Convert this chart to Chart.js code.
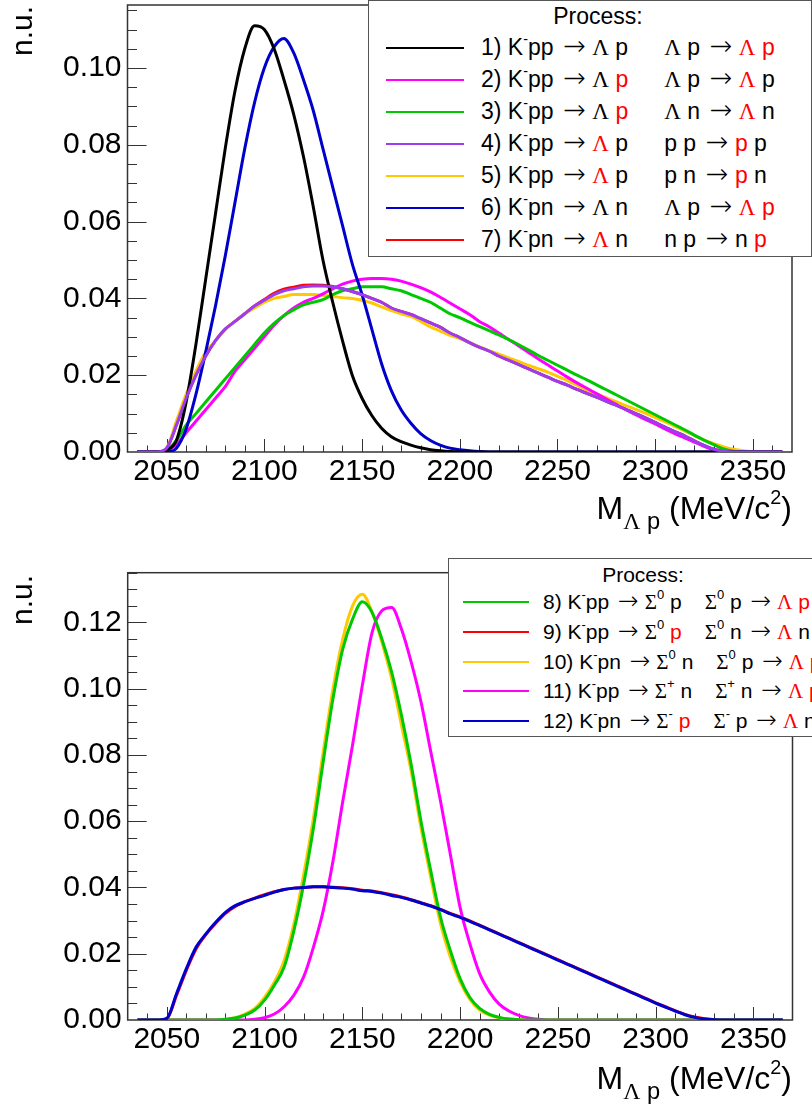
<!DOCTYPE html>
<html>
<head>
<meta charset="utf-8">
<script src="https://cdn.jsdelivr.net/npm/chart.js@4.4.0/dist/chart.umd.min.js"></script>
<style>
  body { margin: 0; width: 812px; height: 1107px; overflow: hidden; background: #fff;
         position: relative; font-family: 'Liberation Sans', Arial, sans-serif; color: #000; }
  canvas { position: absolute; left: 0; }
  #topChart { top: 0; }
  #bottomChart { top: 560px; }
  .legend { position: absolute; background: #fff; border: 1.5px solid #555; box-sizing: border-box; }
  .lrow { position: absolute; white-space: nowrap; line-height: 1; }
  .swatch { position: absolute; height: 0; border-top: 2.5px solid; }
  .lrow i { font-style: normal; color: #f00; }
  .s { font-family: 'Liberation Serif', 'DejaVu Serif', serif; }
  .arr { font-family: 'DejaVu Sans', sans-serif; font-weight: 200; font-size: 118%; line-height: 0; margin-left: 0.12em; }
  .gap { display: inline-block; }
  sup { font-size: 62%; vertical-align: 0.75em; line-height: 0; }
  sub { font-size: 74%; vertical-align: -0.42em; line-height: 0; }
  .xtitle { position: absolute; right: 20px; font-size: 32px; line-height: 1; white-space: nowrap; }
  .ytitle { position: absolute; left: 0; top: 0; font-size: 30px; line-height: 1; white-space: nowrap;
            transform-origin: 0 0; }
</style>
</head>
<body>
<canvas id="topChart" width="812" height="560"></canvas>
<canvas id="bottomChart" width="812" height="547"></canvas>

<div class="ytitle" style="transform: translate(7px, 56px) rotate(-90deg);">n.u.</div>
<div class="xtitle" style="top: 492px;">M<sub><span class="s">Λ</span> p</sub> (MeV/c<sup>2</sup>)</div>
<div class="ytitle" style="transform: translate(7px, 625px) rotate(-90deg);">n.u.</div>
<div class="xtitle" style="top: 1062px;">M<sub><span class="s">Λ</span> p</sub> (MeV/c<sup>2</sup>)</div>

<script>
// M(Λp) bin centres, MeV/c^2
const mass = [
  2035, 2040, 2045, 2050, 2055, 2060, 2065, 2070, 2075, 2080,
  2085, 2090, 2095, 2100, 2105, 2110, 2115, 2120, 2125, 2130,
  2135, 2140, 2145, 2150, 2155, 2160, 2165, 2170, 2175, 2180,
  2185, 2190, 2195, 2200, 2205, 2210, 2215, 2220, 2225, 2230,
  2235, 2240, 2245, 2250, 2255, 2260, 2265, 2270, 2275, 2280,
  2285, 2290, 2295, 2300, 2305, 2310, 2315, 2320, 2325, 2330,
  2335, 2340, 2345, 2350, 2355, 2360, 2365
];

const massTicks = [2050, 2100, 2150, 2200, 2250, 2300, 2350];
const yTicksTop = [0, 0.02, 0.04, 0.06, 0.08, 0.10];
const yTicksBottom = [0, 0.02, 0.04, 0.06, 0.08, 0.10, 0.12];

// top panel: processes 1-7
const proc1 = [
  0, 0, 0, 0.0005, 0.003, 0.013, 0.028, 0.045, 0.062, 0.079,
  0.094, 0.105, 0.111, 0.110, 0.105, 0.097, 0.088, 0.077, 0.064, 0.050,
  0.039, 0.029, 0.020, 0.014, 0.0095, 0.0062, 0.004, 0.0027, 0.0018, 0.0011,
  0.0006, 0.0003, 0.0001, 0, 0, 0, 0, 0, 0, 0,
  0, 0, 0, 0, 0, 0, 0, 0, 0, 0,
  0, 0, 0, 0, 0, 0, 0, 0, 0, 0,
  0, 0, 0, 0, 0, 0, 0
];
const proc2 = [
  0, 0, 0, 0.0003, 0.002, 0.005, 0.008, 0.011, 0.014, 0.017,
  0.021, 0.024, 0.027, 0.030, 0.033, 0.0355, 0.0375, 0.039, 0.040, 0.0412,
  0.0425, 0.0437, 0.0445, 0.045, 0.0452, 0.0452, 0.045, 0.0445, 0.0437, 0.0428,
  0.0417, 0.0403, 0.0388, 0.0373, 0.0358, 0.034, 0.0326, 0.031, 0.0293, 0.0277,
  0.026, 0.0243, 0.0227, 0.0211, 0.0195, 0.018, 0.0166, 0.0152, 0.0138, 0.0124,
  0.011, 0.0097, 0.0085, 0.0073, 0.006, 0.0048, 0.0037, 0.0026, 0.0015, 0.0006,
  0.0001, 0, 0, 0, 0, 0, 0
];
const proc3 = [
  0, 0, 0, 0.0005, 0.003, 0.007, 0.010, 0.013, 0.016, 0.019,
  0.022, 0.025, 0.028, 0.031, 0.0335, 0.0355, 0.037, 0.0383, 0.039, 0.0397,
  0.041, 0.042, 0.0425, 0.043, 0.043, 0.043, 0.0425, 0.042, 0.041, 0.040,
  0.039, 0.0375, 0.036, 0.035, 0.0338, 0.0327, 0.0316, 0.0305, 0.0293, 0.028,
  0.0266, 0.0252, 0.0239, 0.0226, 0.0213, 0.0200, 0.0188, 0.0175, 0.0162, 0.0149,
  0.0136, 0.0123, 0.0110, 0.0097, 0.0084, 0.0071, 0.0058, 0.0044, 0.0031, 0.0019,
  0.0008, 0.0002, 0, 0, 0, 0, 0
];
const proc4 = [
  0, 0, 0, 0.001, 0.007, 0.014, 0.020, 0.025, 0.029, 0.032,
  0.034, 0.036, 0.038, 0.0395, 0.041, 0.042, 0.0425, 0.043, 0.0432, 0.0432,
  0.043, 0.0425, 0.0418, 0.041, 0.040, 0.039, 0.0375, 0.0366, 0.0358, 0.0347,
  0.0336, 0.0325, 0.031, 0.0298, 0.0285, 0.0273, 0.0263, 0.025, 0.0239, 0.0228,
  0.0217, 0.0206, 0.0195, 0.0184, 0.0174, 0.0163, 0.0153, 0.0143, 0.0132, 0.0122,
  0.0111, 0.0100, 0.0089, 0.0077, 0.0065, 0.0053, 0.0042, 0.0029, 0.0017, 0.0007,
  0.0002, 0, 0, 0, 0, 0, 0
];
const proc5 = [
  0, 0, 0, 0.001, 0.008, 0.015, 0.021, 0.026, 0.029, 0.032,
  0.034, 0.036, 0.0375, 0.039, 0.040, 0.0405, 0.041, 0.041, 0.041, 0.0408,
  0.0405, 0.0402, 0.040, 0.0395, 0.0388, 0.0378, 0.0368, 0.036, 0.0353, 0.034,
  0.0326, 0.0315, 0.0304, 0.0295, 0.0285, 0.0274, 0.0264, 0.0255, 0.0245, 0.0236,
  0.0226, 0.0217, 0.0208, 0.0197, 0.0186, 0.0174, 0.0161, 0.0151, 0.0141, 0.0131,
  0.0121, 0.0111, 0.0101, 0.0090, 0.0079, 0.0067, 0.0055, 0.0043, 0.0031, 0.0022,
  0.0013, 0.0007, 0.0003, 0.0001, 0, 0, 0
];
const proc6 = [
  0, 0, 0, 0, 0.001, 0.006, 0.015, 0.026, 0.038, 0.051,
  0.065, 0.079, 0.091, 0.100, 0.1055, 0.1077, 0.104, 0.097, 0.089, 0.079,
  0.069, 0.059, 0.049, 0.041, 0.032, 0.023, 0.016, 0.011, 0.0075, 0.0048,
  0.003, 0.0018, 0.001, 0.0006, 0.0003, 0.0001, 0, 0, 0, 0,
  0, 0, 0, 0, 0, 0, 0, 0, 0, 0,
  0, 0, 0, 0, 0, 0, 0, 0, 0, 0,
  0, 0, 0, 0, 0, 0, 0
];
const proc7 = [
  0, 0, 0, 0.001, 0.007, 0.014, 0.020, 0.025, 0.029, 0.032,
  0.034, 0.036, 0.038, 0.0397, 0.0413, 0.0424, 0.0429, 0.0434, 0.0435, 0.0434,
  0.0431, 0.0425, 0.0418, 0.041, 0.040, 0.039, 0.0375, 0.0366, 0.0358, 0.0347,
  0.0336, 0.0325, 0.031, 0.0298, 0.0285, 0.0273, 0.0263, 0.025, 0.0239, 0.0228,
  0.0217, 0.0206, 0.0195, 0.0184, 0.0174, 0.0163, 0.0153, 0.0143, 0.0132, 0.0122,
  0.0111, 0.0100, 0.0089, 0.0077, 0.0065, 0.0053, 0.0042, 0.0029, 0.0017, 0.0007,
  0.0002, 0, 0, 0, 0, 0, 0
];

// bottom panel: processes 8-12
const proc8 = [
  0, 0, 0, 0, 0, 0, 0, 0, 0, 0.0002,
  0.0006, 0.0015, 0.003, 0.006, 0.0105, 0.016, 0.027, 0.041, 0.058, 0.078,
  0.097, 0.112, 0.121, 0.1262, 0.123, 0.115, 0.105, 0.092, 0.077, 0.060,
  0.045, 0.031, 0.021, 0.0125, 0.0068, 0.0035, 0.0017, 0.0008, 0.0003, 0.0001,
  0, 0, 0, 0, 0, 0, 0, 0, 0, 0,
  0, 0, 0, 0, 0, 0, 0, 0, 0, 0,
  0, 0, 0, 0, 0, 0, 0
];
const proc9 = [
  0, 0, 0, 0.0004, 0.0075, 0.015, 0.0215, 0.0258, 0.0292, 0.0322,
  0.0343, 0.0357, 0.0368, 0.0378, 0.0387, 0.0394, 0.0398, 0.040, 0.0402, 0.0402,
  0.0401, 0.0399, 0.0396, 0.0392, 0.0389, 0.0384, 0.0378, 0.0371, 0.0363, 0.0354,
  0.0345, 0.0334, 0.0322, 0.0311, 0.0299, 0.0286, 0.0273, 0.026, 0.0247, 0.0234,
  0.0221, 0.0208, 0.0195, 0.0182, 0.0169, 0.0156, 0.0143, 0.013, 0.0117, 0.0104,
  0.0091, 0.0078, 0.0065, 0.0052, 0.004, 0.0028, 0.0017, 0.0009, 0.0004, 0.0001,
  0, 0, 0, 0, 0, 0, 0
];
const proc10 = [
  0, 0, 0, 0, 0, 0, 0, 0, 0, 0.0002,
  0.0007, 0.0018, 0.0035, 0.0068, 0.0115, 0.018, 0.029, 0.044, 0.061, 0.081,
  0.100, 0.115, 0.125, 0.1285, 0.123, 0.114, 0.103, 0.089, 0.075, 0.058,
  0.043, 0.029, 0.019, 0.0115, 0.0062, 0.003, 0.0015, 0.0007, 0.0003, 0.0001,
  0, 0, 0, 0, 0, 0, 0, 0, 0, 0,
  0, 0, 0, 0, 0, 0, 0, 0, 0, 0,
  0, 0, 0, 0, 0, 0, 0
];
const proc11 = [
  0, 0, 0, 0, 0, 0, 0, 0, 0, 0,
  0, 0, 0.0002, 0.0007, 0.0018, 0.004, 0.0075, 0.013, 0.022, 0.033,
  0.048, 0.066, 0.083, 0.101, 0.117, 0.1235, 0.1245, 0.118, 0.108, 0.096,
  0.081, 0.066, 0.050, 0.034, 0.023, 0.014, 0.0085, 0.0048, 0.0027, 0.0014,
  0.0006, 0.0002, 0, 0, 0, 0, 0, 0, 0, 0,
  0, 0, 0, 0, 0, 0, 0, 0, 0, 0,
  0, 0, 0, 0, 0, 0, 0
];
const proc12 = [
  0, 0, 0, 0.0005, 0.008, 0.0155, 0.022, 0.026, 0.0295, 0.0325,
  0.0345, 0.0357, 0.0367, 0.0376, 0.0386, 0.0394, 0.0398, 0.040, 0.0402, 0.0402,
  0.040, 0.0398, 0.0395, 0.039, 0.0388, 0.0383, 0.0376, 0.037, 0.0362, 0.0353,
  0.0344, 0.0333, 0.032, 0.031, 0.0298, 0.0285, 0.0272, 0.0259, 0.0246, 0.0233,
  0.022, 0.0207, 0.0194, 0.0181, 0.0168, 0.0155, 0.0142, 0.0129, 0.0116, 0.0103,
  0.009, 0.0077, 0.0064, 0.0051, 0.0039, 0.0027, 0.0016, 0.0008, 0.0003, 0.0001,
  0, 0, 0, 0, 0, 0, 0
];

// legend labels: first reaction, second reaction (red = detected particles)
const labelsTop = [
  ['1) K<sup>-</sup>pp → Λ p', 'Λ p → <i>Λ p</i>'],
  ['2) K<sup>-</sup>pp → Λ <i>p</i>', 'Λ p → <i>Λ</i> p'],
  ['3) K<sup>-</sup>pp → Λ <i>p</i>', 'Λ n → <i>Λ</i> n'],
  ['4) K<sup>-</sup>pp → <i>Λ</i> p', 'p p → <i>p</i> p'],
  ['5) K<sup>-</sup>pp → <i>Λ</i> p', 'p n → <i>p</i> n'],
  ['6) K<sup>-</sup>pn → Λ n', 'Λ p → <i>Λ p</i>'],
  ['7) K<sup>-</sup>pn → <i>Λ</i> n', 'n p → n <i>p</i>'],
];
const labelsBottom = [
  ['8) K<sup>-</sup>pp → Σ<sup>0</sup> p', 'Σ<sup>0</sup> p → <i>Λ p</i>'],
  ['9) K<sup>-</sup>pp → Σ<sup>0</sup> <i>p</i>', 'Σ<sup>0</sup> n → <i>Λ</i> n'],
  ['10) K<sup>-</sup>pn → Σ<sup>0</sup> n', 'Σ<sup>0</sup> p → <i>Λ p</i>'],
  ['11) K<sup>-</sup>pp → Σ<sup>+</sup> n', 'Σ<sup>+</sup> n → <i>Λ p</i>'],
  ['12) K<sup>-</sup>pn → Σ<sup>-</sup> <i>p</i>', 'Σ<sup>-</sup> p → <i>Λ</i> n'],
];

const topSets = [
  { values: proc1, color: '#000000', order: 2 },
  { values: proc2, color: '#ff00ff', order: 5 },
  { values: proc3, color: '#00c800', order: 4 },
  { values: proc4, color: '#9b3cf0', order: 1 },
  { values: proc5, color: '#ffc800', order: 6 },
  { values: proc6, color: '#0000cc', order: 3 },
  { values: proc7, color: '#ff0000', order: 7 },
];
const bottomSets = [
  { values: proc8, color: '#00c800', order: 2 },
  { values: proc9, color: '#ff0000', order: 5 },
  { values: proc10, color: '#ffc800', order: 4 },
  { values: proc11, color: '#ff00ff', order: 3 },
  { values: proc12, color: '#0000cc', order: 1 },
];

// ROOT-style frame with inward major/minor ticks
const frameTicks = {
  id: 'frameTicks',
  beforeDatasetsDraw(chart) {
    const { ctx, chartArea: a, scales: { x, y } } = chart;
    ctx.save();
    ctx.strokeStyle = '#333';
    ctx.lineWidth = 1;
    ctx.beginPath();
    const nY = Math.floor(y.max / 0.005 + 1e-6);
    for (let k = 1; k <= nY; k++) {
      const py = Math.round(y.getPixelForValue(k * 0.005)) + 0.5;
      const len = k % 4 === 0 ? 19 : 9.5;
      ctx.moveTo(a.left, py);
      ctx.lineTo(a.left + len, py);
    }
    for (let m = 2040; m < x.max; m += 10) {
      const px = Math.round(x.getPixelForValue(m)) + 0.5;
      const len = m % 50 === 0 ? 13 : 6.5;
      ctx.moveTo(px, a.bottom);
      ctx.lineTo(px, a.bottom - len);
    }
    ctx.stroke();
    ctx.lineWidth = 1.5;
    ctx.strokeRect(a.left, a.top, a.right - a.left, a.bottom - a.top);
    ctx.restore();
  }
};

function buildChart(id, sets, yMax, yTicks, box) {
  return new Chart(document.getElementById(id), {
    type: 'line',
    data: {
      datasets: sets.map(s => ({
        data: mass.map((m, i) => ({ x: m, y: s.values[i] })),
        borderColor: s.color,
        borderWidth: 3,
        pointRadius: 0,
        fill: false,
        cubicInterpolationMode: 'monotone',
        order: s.order,
      })),
    },
    options: {
      responsive: false,
      animation: false,
      devicePixelRatio: 1,
      layout: { autoPadding: false, padding: { top: box.top, right: box.right, left: 0, bottom: 0 } },
      plugins: { legend: { display: false }, tooltip: { enabled: false } },
      scales: {
        x: {
          type: 'linear', min: 2030, max: 2370,
          afterBuildTicks: s => { s.ticks = massTicks.map(v => ({ value: v })); },
          afterFit: s => { s.height = box.axisH; s.paddingLeft = 0; s.paddingRight = 0; },
          grid: { display: false, drawTicks: false },
          border: { display: false },
          ticks: {
            color: '#000', padding: 2, maxRotation: 0, autoSkip: false,
            font: { family: 'Liberation Sans', size: 30 },
            callback: v => String(v),
          },
        },
        y: {
          type: 'linear', min: 0, max: yMax,
          afterBuildTicks: s => { s.ticks = yTicks.map(v => ({ value: v })); },
          afterFit: s => { s.width = box.axisW; s.paddingTop = 0; s.paddingBottom = 0; },
          grid: { display: false, drawTicks: false },
          border: { display: false },
          ticks: {
            color: '#000', padding: 6,
            font: { family: 'Liberation Sans', size: 30 },
            callback: v => v.toFixed(2),
          },
        },
      },
    },
    plugins: [frameTicks],
  });
}

const sym = html => html
  .replace(/[ΛΣ]/g, c => '<span class="s">' + c + '</span>')
  .replace(/→/g, '<span class="arr">→</span>');

function buildLegend(sets, labels, L) {
  const box = document.createElement('div');
  box.className = 'legend';
  Object.assign(box.style, { left: L.x + 'px', top: L.y + 'px', width: L.w + 'px', height: L.h + 'px', fontSize: L.fs + 'px' });
  const head = document.createElement('div');
  head.className = 'lrow';
  head.textContent = 'Process:';
  Object.assign(head.style, { left: (L.headX - L.x) + 'px', top: (L.headY - L.y - L.fs * 0.49) + 'px', transform: 'translateX(-50%)' });
  box.appendChild(head);
  sets.forEach((s, i) => {
    const cy = L.row0 + i * L.rowStep - L.y;
    const line = document.createElement('div');
    line.className = 'swatch';
    Object.assign(line.style, { left: (L.lineX0 - L.x) + 'px', width: (L.lineX1 - L.lineX0) + 'px', top: (cy - 2) + 'px', borderTopColor: s.color });
    box.appendChild(line);
    const txt = document.createElement('div');
    txt.className = 'lrow';
    txt.innerHTML = sym(labels[i][0]) + '<span class="gap" style="width:' + L.gap + 'px"></span>' + sym(labels[i][1]);
    Object.assign(txt.style, { left: (L.textX - L.x) + 'px', top: (cy - 1.5 - L.fs * 0.49) + 'px' });
    box.appendChild(txt);
  });
  document.body.appendChild(box);
}

buildChart('topChart', topSets, 0.1164, yTicksTop, { top: 5, right: 20, axisW: 127.5, axisH: 108 });
buildChart('bottomChart', bottomSets, 0.135, yTicksBottom, { top: 12.7, right: 19.5, axisW: 127.7, axisH: 87 });

buildLegend(topSets, labelsTop, { x: 368, y: 0, w: 444, h: 257, fs: 23, headX: 597, headY: 15,
  row0: 48, rowStep: 32, lineX0: 385, lineX1: 463, textX: 480, gap: 36 });
buildLegend(bottomSets, labelsBottom, { x: 448, y: 558, w: 420, h: 179, fs: 21, headX: 642, headY: 573,
  row0: 602, rowStep: 29.75, lineX0: 462, lineX1: 528, textX: 542, gap: 23 });
</script>
</body>
</html>
